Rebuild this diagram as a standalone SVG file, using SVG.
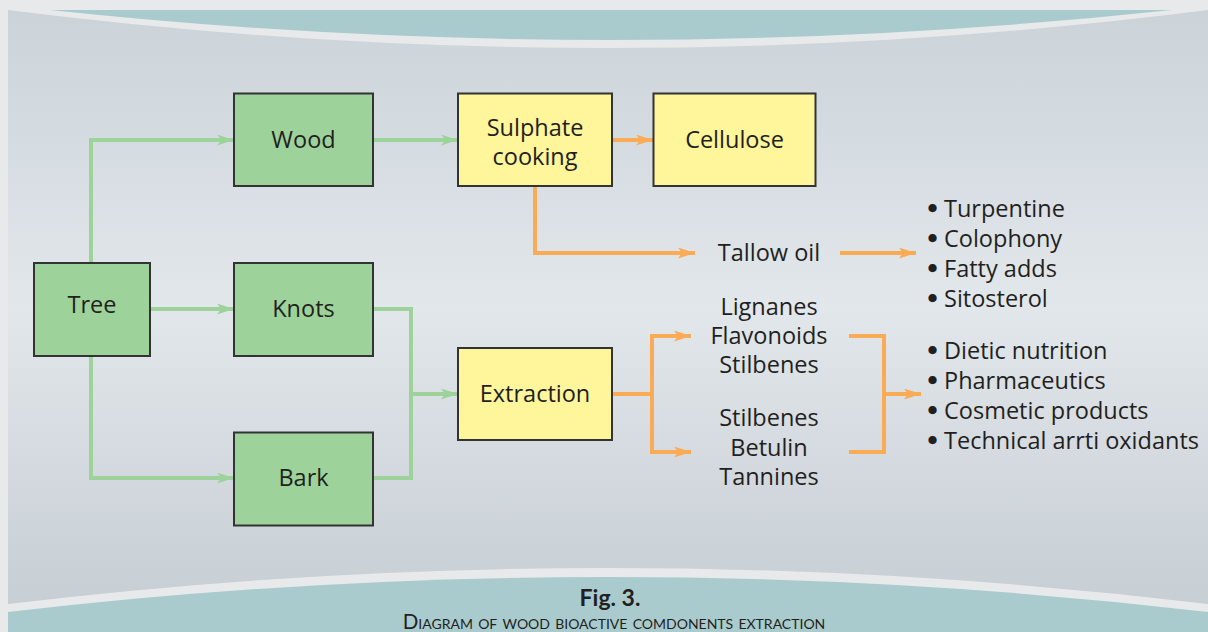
<svg xmlns="http://www.w3.org/2000/svg" width="1208" height="632" viewBox="0 0 1208 632">
<defs>
<linearGradient id="bg" x1="0" y1="0" x2="0" y2="1">
<stop offset="0" stop-color="#cbd3d9"/>
<stop offset="0.5" stop-color="#e2e7eb"/>
<stop offset="1" stop-color="#c7ced4"/>
</linearGradient>
<marker id="ag" viewBox="0 0 17 11" refX="17" refY="5.5" markerWidth="17" markerHeight="11" markerUnits="userSpaceOnUse" orient="auto">
<path d="M0,0 L17,5.5 L0,11 L4,5.5 Z" fill="#9dd39b"/>
</marker>
<marker id="ao" viewBox="0 0 17 11" refX="17" refY="5.5" markerWidth="17" markerHeight="11" markerUnits="userSpaceOnUse" orient="auto">
<path d="M0,0 L17,5.5 L0,11 L4,5.5 Z" fill="#fbaa55"/>
</marker>
</defs>
<style>
.box{stroke:#333;stroke-width:2}
.g{fill:#9dd39b}
.y{fill:#fff59b}
.t{font-family:"Open Sans","Noto Sans",sans-serif;font-size:23.5px;fill:#231f20;text-anchor:middle}
.l{font-family:"Open Sans","Noto Sans",sans-serif;font-size:23.5px;fill:#231f20}
.b{font-family:"DejaVu Sans",sans-serif;font-weight:bold}
.cg{fill:none;stroke:#9dd39b;stroke-width:4}
.co{fill:none;stroke:#fbaa55;stroke-width:4}
.cap{font-family:"Lato","Open Sans",sans-serif;fill:#231f20;text-anchor:middle}
</style>
<rect width="1208" height="632" fill="#e8e9ea"/>
<path d="M8,10 Q608,86 1208,10 L1208,604 Q608,532 8,604 Z" fill="url(#bg)"/>
<path d="M50,10 L1172,10 Q611,70 50,10 Z" fill="#a9cbcd"/>
<path d="M8,612 Q608,542 1208,612 L1208,632 L8,632 Z" fill="#a9cbcd"/>

<g id="connectors">
<path class="cg" d="M91,263 V140 H234" marker-end="url(#ag)"/>
<path class="cg" d="M150,309 H234" marker-end="url(#ag)"/>
<path class="cg" d="M91,356 V478 H234" marker-end="url(#ag)"/>
<path class="cg" d="M373,140 H458" marker-end="url(#ag)"/>
<path class="cg" d="M373,309 H411 V478 H373"/>
<path class="cg" d="M411,394 H458" marker-end="url(#ag)"/>
<path class="co" d="M612,140 H653" marker-end="url(#ao)"/>
<path class="co" d="M535,186 V253 H695" marker-end="url(#ao)"/>
<path class="co" d="M840,253 H916" marker-end="url(#ao)"/>
<path class="co" d="M612,394 H652"/>
<path class="co" d="M691,336 H652 V452 H691" marker-end="url(#ao)"/>
<path class="co" d="M652,336 H691" marker-end="url(#ao)"/>
<path class="co" d="M849,336 H884 V452 H849"/>
<path class="co" d="M884,394 H921" marker-end="url(#ao)"/>
</g>

<g id="tree"><rect class="box g" x="34" y="263" width="116" height="93"/><text class="t" x="92" y="313">Tree</text></g>
<g id="wood"><rect class="box g" x="234" y="93.5" width="139" height="92.5"/><text class="t" x="303.5" y="148">Wood</text></g>
<g id="knots"><rect class="box g" x="234" y="263" width="139" height="93"/><text class="t" x="303.5" y="317">Knots</text></g>
<g id="bark"><rect class="box g" x="234" y="432.5" width="139" height="93"/><text class="t" x="303.5" y="486">Bark</text></g>
<g id="sulphate"><rect class="box y" x="458" y="93.5" width="154" height="92.5"/><text class="t" x="535" y="136">Sulphate</text><text class="t" x="535" y="165">cooking</text></g>
<g id="cellulose"><rect class="box y" x="653.5" y="93.5" width="162" height="92.5"/><text class="t" x="734.5" y="148">Cellulose</text></g>
<g id="extraction"><rect class="box y" x="458" y="348" width="154" height="92"/><text class="t" x="535" y="402">Extraction</text></g>
<g id="tallow"><text class="t" x="769" y="261">Tallow oil</text></g>
<g id="group1"><text class="t" x="769" y="315">Lignanes</text><text class="t" x="769" y="344">Flavonoids</text><text class="t" x="769" y="373">Stilbenes</text></g>
<g id="group2"><text class="t" x="769" y="426">Stilbenes</text><text class="t" x="769" y="455.5">Betulin</text><text class="t" x="769" y="485">Tannines</text></g>
<g id="list1">
<text class="l" x="925" y="217"><tspan class="b">•</tspan><tspan x="944">Turpentine</tspan></text>
<text class="l" x="925" y="247"><tspan class="b">•</tspan><tspan x="944">Colophony</tspan></text>
<text class="l" x="925" y="277"><tspan class="b">•</tspan><tspan x="944">Fatty adds</tspan></text>
<text class="l" x="925" y="307"><tspan class="b">•</tspan><tspan x="944">Sitosterol</tspan></text>
</g>
<g id="list2">
<text class="l" x="925" y="359"><tspan class="b">•</tspan><tspan x="944">Dietic nutrition</tspan></text>
<text class="l" x="925" y="389"><tspan class="b">•</tspan><tspan x="944">Pharmaceutics</tspan></text>
<text class="l" x="925" y="419"><tspan class="b">•</tspan><tspan x="944">Cosmetic products</tspan></text>
<text class="l" x="925" y="449"><tspan class="b">•</tspan><tspan x="944">Technical arrti oxidants</tspan></text>
</g>
<g id="caption"><text class="cap" x="610" y="606" font-size="23" font-weight="bold">Fig. 3.</text><text class="cap" x="614" y="629" font-size="20.5" font-variant="small-caps">Diagram of wood bioactive comdonents extraction</text></g>
</svg>
